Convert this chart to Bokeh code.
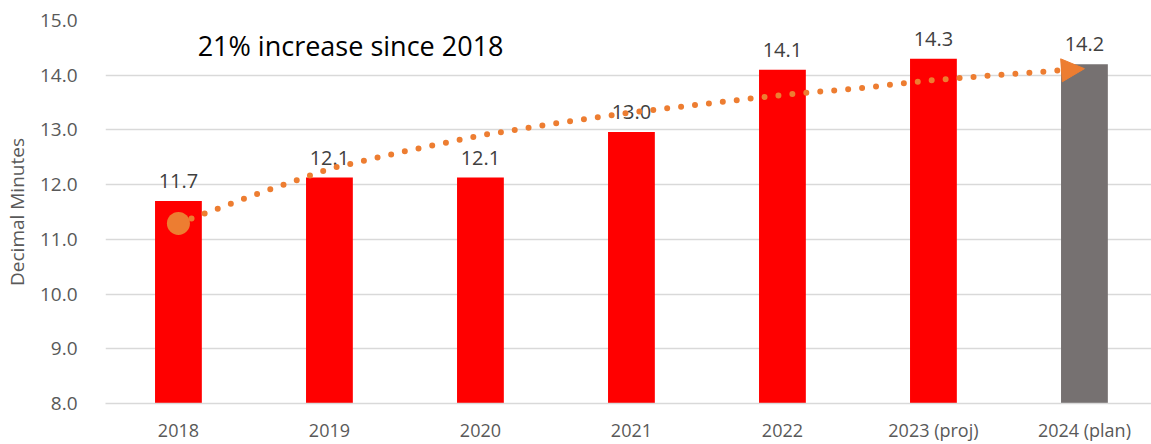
from bokeh.plotting import figure
from bokeh.models import Arrow, NormalHead, Label, FixedTicker, NumeralTickFormatter
from bokeh.embed import file_html
from bokeh.resources import INLINE
from bokeh.core.properties import value

categories = ["2018", "2019", "2020", "2021", "2022", "2023 (proj)", "2024 (plan)"]
values = [11.7, 12.13, 12.13, 12.96, 14.1, 14.3, 14.2]
value_labels = ["11.7", "12.1", "12.1", "13.0", "14.1", "14.3", "14.2"]
bar_colors = ["#FF0000", "#FF0000", "#FF0000", "#FF0000", "#FF0000", "#FF0000", "#767171"]
y_ticks = [8, 9, 10, 11, 12, 13, 14, 15]
trend_x = [0, 0.5, 1, 1.5, 2, 2.5, 3, 3.5, 4, 4.5, 5, 5.5, 6]
trend_y = [11.29, 11.81, 12.29, 12.61, 12.90, 13.12, 13.32, 13.48, 13.64, 13.76, 13.91, 14.02, 14.12]
annotation = "21% increase since 2018"

FONT = "Open Sans"
idx = list(range(len(categories)))

p = figure(frame_width=1049, frame_height=383, x_range=(-0.483, 6.464), y_range=(8, 15),
           output_backend="svg", toolbar_location=None,
           min_border_left=102, min_border_right=0, min_border_top=20, min_border_bottom=41)
p.outline_line_color = None
p.background_fill_color = "white"
p.border_fill_color = "white"

p.vbar(x=idx, top=values, bottom=y_ticks[0], width=0.31, fill_color=bar_colors, line_color=None)

p.text(x=idx, y=values, text=value_labels, y_offset=-20, text_align="center",
       text_baseline="alphabetic", text_font=value(FONT), text_font_size="20px", text_color="#404040")

p.line(trend_x, trend_y, line_color="#ED7D31", line_width=6, line_dash="0 14", line_cap="round")
p.scatter([trend_x[0]], [trend_y[0]], size=23, fill_color="#ED7D31", line_color=None)
p.add_layout(Arrow(x_start=trend_x[-2], y_start=trend_y[-2], x_end=trend_x[-1], y_end=trend_y[-1],
                   line_alpha=0,
                   end=NormalHead(size=23, fill_color="#ED7D31", line_color="#ED7D31")))

p.add_layout(Label(x=1.14, y=14.54, text=annotation, text_align="center", text_baseline="middle",
                   text_font=FONT, text_font_size="27px", text_color="#000000"))

p.xgrid.grid_line_color = None
p.ygrid.grid_line_color = "#D9D9D9"
p.ygrid.grid_line_width = 1.5
p.yaxis.ticker = FixedTicker(ticks=y_ticks)
p.yaxis.formatter = NumeralTickFormatter(format="0.0")
p.yaxis.axis_line_color = None
p.yaxis.major_tick_line_color = None
p.yaxis.minor_tick_line_color = None
p.yaxis.major_label_text_font = FONT
p.yaxis.major_label_text_font_size = "19px"
p.yaxis.major_label_text_color = "#595959"
p.yaxis.major_label_standoff = 22
p.yaxis.axis_label = "Decimal Minutes"
p.yaxis.axis_label_text_font = FONT
p.yaxis.axis_label_text_font_style = "normal"
p.yaxis.axis_label_text_font_size = "19px"
p.yaxis.axis_label_text_color = "#595959"
p.yaxis.axis_label_standoff = 7

p.xaxis.ticker = FixedTicker(ticks=idx)
p.xaxis.major_label_overrides = {i: c for i, c in zip(idx, categories)}
p.xaxis.axis_line_color = "#D9D9D9"
p.xaxis.axis_line_width = 1.5
p.xaxis.major_tick_line_color = None
p.xaxis.minor_tick_line_color = None
p.xaxis.major_label_text_font = FONT
p.xaxis.major_label_text_font_size = "18px"
p.xaxis.major_label_text_color = "#595959"
p.xaxis.major_label_standoff = 8

open("out.html", "w").write(file_html(p, INLINE))
